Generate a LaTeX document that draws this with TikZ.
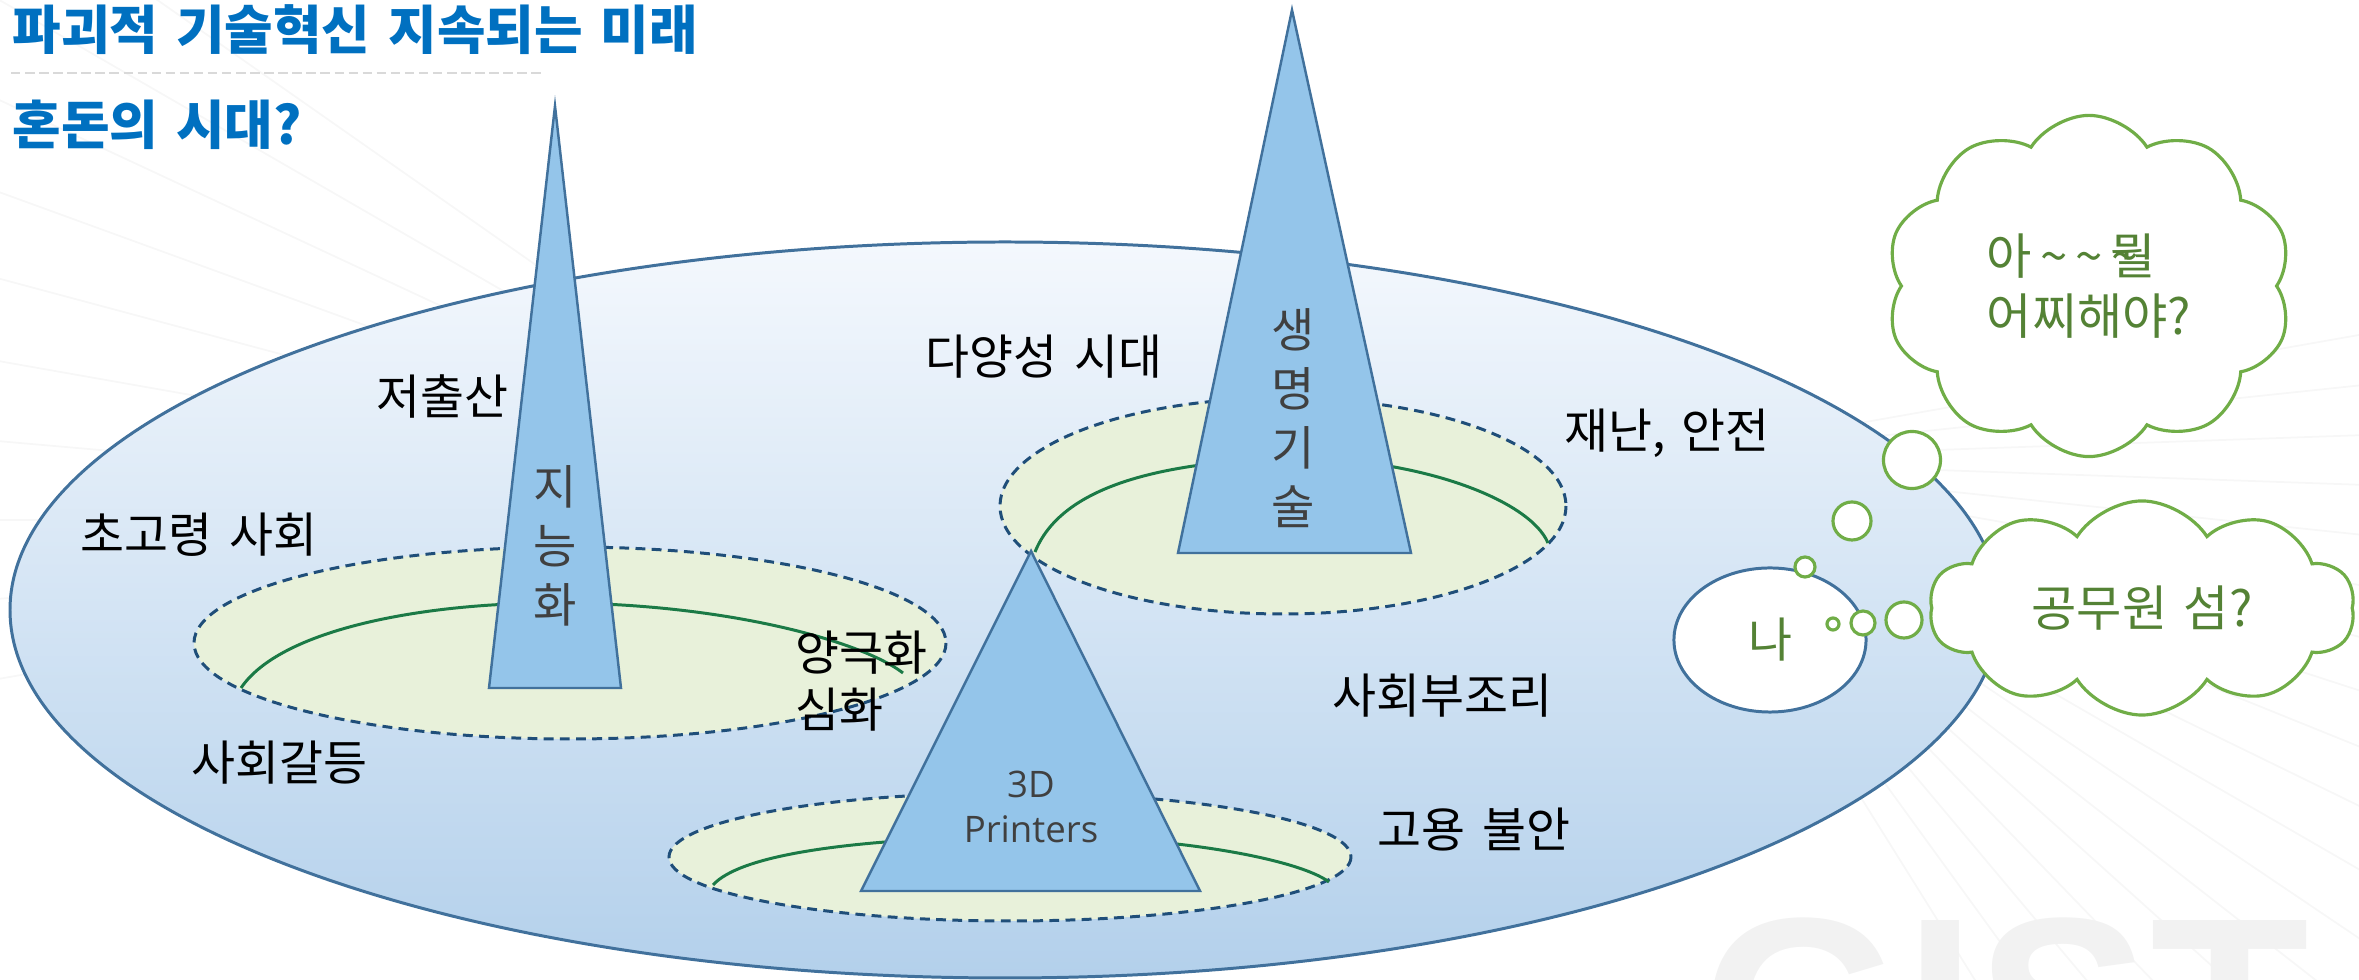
\documentclass[tikz,border=0pt]{standalone}
\usepackage{fontspec}
\setmainfont{Noto Sans CJK KR}[WordSpace=1.5]
\newfontfamily\printfont{Open Sans}
\newfontfamily\markfont{Liberation Sans}
\usetikzlibrary{shapes.symbols, shapes.geometric, positioning}

\definecolor{titleblue}{HTML}{0070C0}
\definecolor{edgeblue}{HTML}{41719C}
\definecolor{dashblue}{HTML}{1F4E79}
\definecolor{peakblue}{HTML}{94C5EA}
\definecolor{padgreen}{HTML}{E8F1DA}
\definecolor{rimgreen}{HTML}{1B7A46}
\definecolor{cloudgreen}{HTML}{70AD47}
\definecolor{thinkgreen}{HTML}{548235}
\definecolor{topsky}{HTML}{F4F8FD}
\definecolor{lowsky}{HTML}{B3D0EB}
\definecolor{peaktext}{HTML}{404040}

\newcommand{\wave}{\,\textasciitilde}

\begin{document}
\begin{tikzpicture}[x=0.01cm, y=-0.01cm,
    word/.style = {inner sep=0pt, font=\fontsize{13.6}{16}\selectfont},
    peak/.style = {fill=peakblue, draw=edgeblue, line width=0.7pt},
    peaktag/.style = {inner sep=0pt, align=center, text=peaktext, font=\fontsize{13.4}{16.8}\selectfont},
    pad/.style = {fill=padgreen, draw=dashblue, line width=0.85pt, dash pattern=on 2.8pt off 1.8pt},
    rim/.style = {draw=rimgreen, line width=0.85pt},
    bubble/.style = {circle, draw=cloudgreen, fill=white, line width=0.9pt, inner sep=0pt},
    thought/.style = {cloud, cloud puffs=10, cloud puff arc=115, cloud ignores aspect,
        draw=cloudgreen, fill=white, line width=0.9pt, text=thinkgreen, align=left,
        font=\fontsize{14}{17}\selectfont},
    gridline/.style = {draw=gray!6, line width=0.5pt}
]
\useasboundingbox (0,0) rectangle (2359,980);
\clip (0,0) rectangle (2359,980);

% faint backdrop
\foreach \a in {-10,-6,...,58}
    \draw[gridline] (1650,460) -- ++(\a:1400);
\foreach \a in {170,175,...,215}
    \draw[gridline] (900,520) -- ++(\a:1300);
\node[anchor=base west, inner sep=0pt, text=gray!10, font=\markfont\bfseries\fontsize{74}{74}\selectfont] (mark) at (1701,1100) {GIST};

% heading
\node[anchor=west, inner sep=0pt, text=titleblue, font=\bfseries\fontsize{15}{18}\selectfont] (headline) at (12,30) {파괴적 기술혁신 지속되는 미래};
\draw[draw=gray!30, line width=0.6pt, dash pattern=on 2.7pt off 1.3pt] (11,73) -- (542,73);
\node[anchor=west, inner sep=0pt, text=titleblue, font=\bfseries\fontsize{15}{18}\selectfont] (question) at (12,125) {혼돈의 시대?};

% world
\draw[draw=edgeblue, line width=0.85pt, top color=topsky, bottom color=lowsky] (1005,610) ellipse [x radius=995, y radius=368];

% pads
\draw[pad] (570,643) ellipse [x radius=376, y radius=96];
\draw[rim] (241,688) .. controls (280,630) and (420,603) .. (555,603) .. controls (720,603) and (860,640) .. (903,673);
\draw[pad] (1283,506) ellipse [x radius=283, y radius=108];
\draw[rim] (1035,552) .. controls (1060,490) and (1150,462) .. (1293,458) .. controls (1420,458) and (1530,500) .. (1548,543);
\draw[pad] (1010,857) ellipse [x radius=341, y radius=64];
\draw[rim] (713,885) .. controls (740,855) and (850,838) .. (1031,836) .. controls (1180,836) and (1300,860) .. (1329,882);

% peaks
\draw[peak] (555,106) -- (621,688) -- (489,688) -- cycle;
\draw[peak] (1292,10) -- (1411,553) -- (1178,553) -- cycle;
\draw[peak] (1031,551) -- (1200,891) -- (861,891) -- cycle;
\node[peaktag] (intel) at (555,546) {지\\능\\화};
\node[peaktag] (bio) at (1293,418) {생\\명\\기\\술};
\node[peaktag, font=\printfont\fontsize{10.4}{12.8}\selectfont] (printer) at (1031,807) {3D\\Printers};

% issues
\node[word] (birth) at (442,397) {저출산};
\node[word] (aged) at (199,535) {초고령 사회};
\node[word] (conflict) at (280,763) {사회갈등};
\node[word, anchor=west, align=left, font=\fontsize{13.6}{16.2}\selectfont] (polar) at (795,681) {양극화\\심화};
\node[word] (diverse) at (1044,357) {다양성 시대};
\node[word] (safety) at (1667,433) {재난, 안전};
\node[word] (unjust) at (1442,696) {사회부조리};
\node[word] (jobs) at (1474,830) {고용 불안};

% me and thoughts
\node[ellipse, draw=edgeblue, fill=white, line width=0.85pt, minimum width=1.92cm, minimum height=1.44cm,
      text=thinkgreen, font=\fontsize{13.6}{16}\selectfont] (me) at (1770,640) {나};
\node[bubble, minimum size=0.12cm] (b1) at (1833,624) {};
\node[bubble, minimum size=0.24cm] (b2) at (1863,623) {};
\node[bubble, minimum size=0.36cm] (b3) at (1904,620) {};
\node[bubble, minimum size=0.20cm] (b4) at (1805,567) {};
\node[bubble, minimum size=0.38cm] (b5) at (1852,521) {};
\node[bubble, minimum size=0.57cm] (b6) at (1912,460) {};
\node[thought, minimum width=4.06cm, minimum height=3.41cm] (worry) at (2089,286)
    {아\makebox[1.6em][l]{\wave\wave\wave}뭘\\어찌해야?};
\node[thought, minimum width=4.25cm, minimum height=2.14cm] (exam) at (2142,608) {공무원 섬?};
\end{tikzpicture}
\end{document}
